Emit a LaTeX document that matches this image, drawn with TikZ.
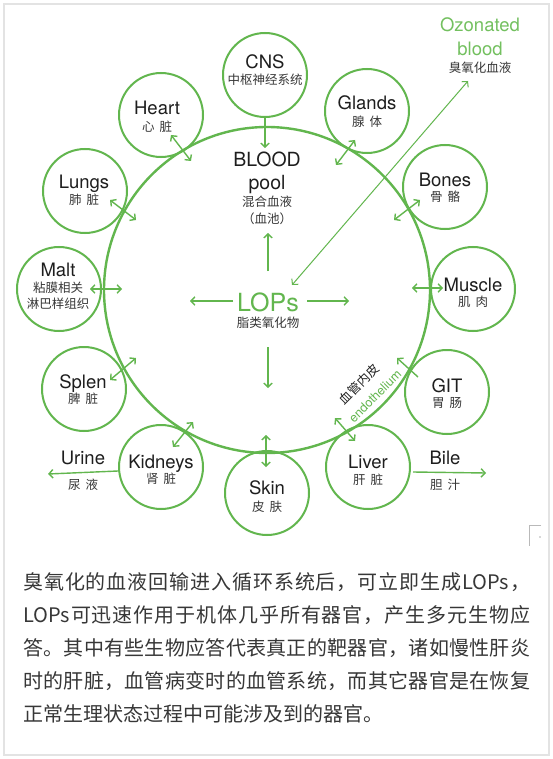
\documentclass[tikz,border=0pt]{standalone}
\usepackage{fontspec}
\setmainfont{TeX Gyre Heros}
\newfontfamily\zh{Noto Sans CJK SC}
\usetikzlibrary{arrows.meta}
\definecolor{lgreen}{RGB}{98,182,78}
\definecolor{ozgreen}{RGB}{115,192,95}
\definecolor{txt}{RGB}{30,30,30}
\definecolor{ztxt}{RGB}{55,55,55}
\def\spreadit#1{\spreadB#1\relax}
\def\spreadB#1{#1\spreadC}
\def\spreadC#1{\ifx\relax#1\else\hfil#1\expandafter\spreadC\fi}
\tikzset{
  organ/.style={circle, draw=lgreen, line width=2pt, minimum size=84pt, inner sep=0pt},
  en/.style={font=\fontsize{18.5pt}{20pt}\selectfont, text=txt, inner sep=0pt, text height=13.3pt, text depth=0pt},
  zhs/.style={font=\zh\fontsize{12.5pt}{14pt}\selectfont, text=ztxt, inner sep=0pt, text height=11pt, text depth=1.5pt},
  tip/.tip={Straight Barb[length=4pt,width=8.5pt]},
  arr/.style={lgreen, line width=1.4pt, -tip},
  darr/.style={lgreen, line width=1.4pt, tip-tip},
  para/.style={anchor=west, inner sep=0pt, font=\zh\fontsize{20pt}{24pt}\selectfont, text=ztxt}
}
\begin{document}
\begin{tikzpicture}[x=1pt,y=-1pt]
\useasboundingbox (0,0) rectangle (553,759);
\fill[white] (0,0) rectangle (553,759);
\draw[gray!22, line width=1.2pt] (4,4) rectangle (549,755);
% corner mark
\draw[gray!55, line width=1pt] (541,525) -- (529,525) -- (529,546);
\fill[gray!60] (540,537) circle (0.8pt);

% big circle
\node[circle, draw=lgreen, line width=2.4pt, minimum size=326pt, inner sep=0pt] (blood) at (267,290) {};

% organ circles
\node[organ] (cns) at (265,75) {};
\node[organ] (heart) at (161,115) {};
\node[organ] (glands) at (367,111) {};
\node[organ] (lungs) at (85,191) {};
\node[organ] (bones) at (445,187) {};
\node[organ] (malt) at (59,289) {};
\node[organ] (muscle) at (473,289) {};
\node[organ] (splen) at (84,389) {};
\node[organ] (git) at (447,392) {};
\node[organ] (kidneys) at (161,467) {};
\node[organ] (liver) at (368,467) {};
\node[organ] (skin) at (267,493) {};

% organ labels
\node[en] (cns-en) at (265,62) {CNS};
\node[zhs] (cns-zh) at (265,80) {中枢神经系统};
\node[en] (heart-en) at (157,108) {Heart};
\node[zhs] (heart-zh) at (157,127) {心\hspace{5pt}脏};
\node[en] (glands-en) at (367,103) {Glands};
\node[zhs] (glands-zh) at (367,122) {腺\hspace{5pt}体};
\node[en] (lungs-en) at (84,182) {Lungs};
\node[zhs] (lungs-zh) at (84,200) {肺\hspace{5pt}脏};
\node[en] (bones-en) at (445,180) {Bones};
\node[zhs] (bones-zh) at (445,197) {骨\hspace{5pt}骼};
\node[en] (malt-en) at (58,270) {Malt};
\node[zhs] (malt-zh1) at (58,288) {粘膜相关};
\node[zhs] (malt-zh2) at (58,304) {淋巴样组织};
\node[en] (muscle-en) at (473,285) {Muscle};
\node[zhs] (muscle-zh) at (473,302) {肌\hspace{5pt}肉};
\node[en] (splen-en) at (83,382) {Splen};
\node[zhs] (splen-zh) at (83,399) {脾\hspace{5pt}脏};
\node[en] (git-en) at (447,386) {GIT};
\node[zhs] (git-zh) at (447,403) {胃\hspace{5pt}肠};
\node[en] (kidneys-en) at (161,462) {Kidneys};
\node[zhs] (kidneys-zh) at (161,479) {肾\hspace{5pt}脏};
\node[en] (liver-en) at (368,462) {Liver};
\node[zhs] (liver-zh) at (368,480) {肝\hspace{5pt}脏};
\node[en] (skin-en) at (267,488) {Skin};
\node[zhs] (skin-zh) at (267,507) {皮\hspace{5pt}肤};

% blood pool labels
\node[en, font=\fontsize{19.5pt}{21pt}\selectfont, text height=14pt] (pool-en1) at (267,160) {BLOOD};
\node[en, font=\fontsize{19.5pt}{21pt}\selectfont, text height=14pt] (pool-en2) at (267,183) {pool};
\node[zhs] (pool-zh1) at (267,202) {混合血液};
\node[zhs] (pool-zh2) at (267,219) {（血池）};

% LOPs
\node[inner sep=0pt, font=\fontsize{25pt}{27pt}\selectfont, text=lgreen, text height=18pt, text depth=0pt] (lops) at (268,302) {LOPs};
\node[zhs] (lops-zh) at (268,323) {脂类氧化物};

% ozonated blood
\node[en, text=ozgreen] (oz1) at (480,25) {Ozonated};
\node[en, text=ozgreen] (oz2) at (480,49) {blood};
\node[zhs] (oz3) at (480,68) {臭氧化血液};

% endothelium
\node[zhs, rotate=45, text=txt] (endo-zh) at (359,384) {血管内皮};
\node[inner sep=0pt, font=\fontsize{12.5pt}{14pt}\selectfont, text=lgreen, rotate=45] (endo-en) at (375,396) {endothelium};

% urine / bile
\node[en] (urine-en) at (83,458) {Urine};
\node[zhs] (urine-zh) at (83,485) {尿\hspace{5pt}液};
\node[en] (bile-en) at (445,458) {Bile};
\node[zhs] (bile-zh) at (445,485) {胆\hspace{5pt}汁};

% arrow end points
\coordinate (cns-a) at (265,117);
\coordinate (cns-b) at (265,148);
\coordinate (up-a) at (268,271);
\coordinate (up-b) at (268,233);
\coordinate (down-a) at (268,347);
\coordinate (down-b) at (268,388);
\coordinate (left-a) at (233,301);
\coordinate (left-b) at (190,301);
\coordinate (right-a) at (307,301);
\coordinate (right-b) at (349,301);
\coordinate (heart-a) at (171,135);
\coordinate (heart-b) at (191,161);
\coordinate (lungs-a) at (110,200);
\coordinate (lungs-b) at (136,220);
\coordinate (glands-a) at (355,140);
\coordinate (glands-b) at (336,165);
\coordinate (bones-a) at (420,200);
\coordinate (bones-b) at (394,220);
\coordinate (malt-a) at (90,289);
\coordinate (malt-b) at (122,289);
\coordinate (muscle-a) at (412,288);
\coordinate (muscle-b) at (443,288);
\coordinate (splen-a) at (110,380);
\coordinate (splen-b) at (136,358);
\coordinate (git-a) at (418,377);
\coordinate (git-b) at (397,358);
\coordinate (kidneys-a) at (173,447);
\coordinate (kidneys-b) at (193,422);
\coordinate (liver-a) at (335,418);
\coordinate (liver-b) at (355,441);
\coordinate (skin-a) at (266,435);
\coordinate (skin-b) at (266,467);
\coordinate (urine-a) at (118,471);
\coordinate (urine-b) at (48,474);
\coordinate (bile-a) at (413,472);
\coordinate (bile-b) at (486,473);
\coordinate (oz-a) at (468,81);
\coordinate (oz-b) at (292,285);

% arrows
\draw[arr] (cns-a) -- (cns-b);
\draw[arr] (up-a) -- (up-b);
\draw[arr] (down-a) -- (down-b);
\draw[arr] (left-a) -- (left-b);
\draw[arr] (right-a) -- (right-b);
\draw[darr] (heart-a) -- (heart-b);
\draw[darr] (lungs-a) -- (lungs-b);
\draw[darr] (glands-a) -- (glands-b);
\draw[darr] (bones-a) -- (bones-b);
\draw[darr] (malt-a) -- (malt-b);
\draw[darr] (muscle-a) -- (muscle-b);
\draw[darr] (splen-a) -- (splen-b);
\draw[arr] (git-a) -- (git-b);
\draw[darr] (kidneys-a) -- (kidneys-b);
\draw[darr] (liver-a) -- (liver-b);
\draw[darr] (skin-a) -- (skin-b);
\draw[arr] (urine-a) -- (urine-b);
\draw[arr] (bile-a) -- (bile-b);
\draw[darr, line width=1pt] (oz-a) -- (oz-b);

% paragraph
\node[para] (p1) at (23,582) {\hbox to 507pt{\spreadit{臭氧化的血液回输进入循环系统后，可立即生成{LOPs}，}}};
\node[para] (p2) at (23,615) {\hbox to 507pt{\spreadit{{LOPs}可迅速作用于机体几乎所有器官，产生多元生物应}}};
\node[para] (p3) at (23,648) {\hbox to 507pt{\spreadit{答。其中有些生物应答代表真正的靶器官，诸如慢性肝炎}}};
\node[para] (p4) at (23,681) {\hbox to 507pt{\spreadit{时的肝脏，血管病变时的血管系统，而其它器官是在恢复}}};
\node[para] (p5) at (23,714) {正常生理状态过程中可能涉及到的器官。};
\end{tikzpicture}
\end{document}
